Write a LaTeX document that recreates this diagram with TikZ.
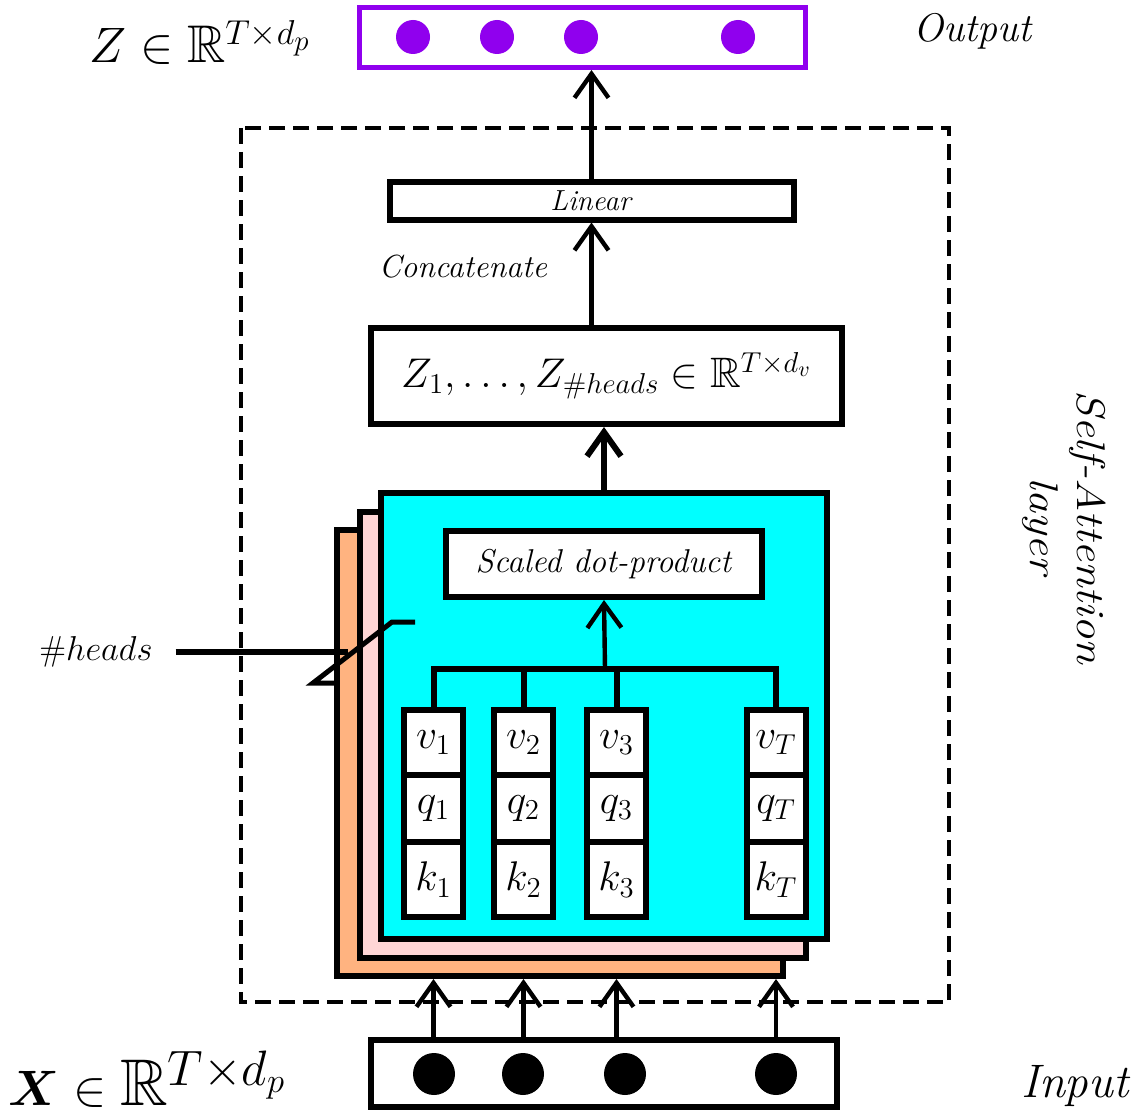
\documentclass[tikz,border=0pt]{standalone}
\usepackage{amsmath}
\usepackage{amssymb}
\usepackage{bm}
\usepackage{graphicx}
\usetikzlibrary{arrows.meta}
\definecolor{outviolet}{RGB}{144,0,238}
\definecolor{headcyan}{RGB}{0,255,255}
\definecolor{headpink}{RGB}{255,214,214}
\definecolor{headpeach}{RGB}{255,179,128}
\tikzset{
  box/.style={draw=black, line width=3pt, fill=white, inner sep=0pt},
  cell/.style={box, minimum width=29.5pt},
  arr/.style={line width=2.2pt, -{Straight Barb[length=12pt,width=17pt]}},
  fs/.style={font=\fontsize{#1}{#1}\selectfont}
}
\begin{document}
\begin{tikzpicture}[x=0.5pt, y=-0.5pt]
\useasboundingbox (0,0) rectangle (1135,1113);
\draw[line width=2pt, dash pattern=on 8pt off 4pt] (241,128) rectangle (949,1002);

\node[box, draw=outviolet, line width=2.5pt, minimum width=223pt, minimum height=30pt] (out) at (582.5,37.5) {};
\foreach \x [count=\i] in {413,497,581,738}
  \node[circle, fill=outviolet, minimum size=17pt, inner sep=0pt] (z\i) at (\x,37) {};
\node[fs=26.5, anchor=base west, inner sep=0pt] (zlab) at (89,63) {$Z\in\mathbb{R}^{T\times d_p}$};
\node[fs=20, anchor=base west, inner sep=0pt] (outlab) at (913,42) {\textit{Output}};

\node[box, minimum width=202pt, minimum height=19pt, fs=14.5] (lin) at (591.5,200.5) {\textit{Linear}};
\node[fs=16] (cat) at (463,267) {\textit{Concatenate}};
\node[box, minimum width=235.5pt, minimum height=48pt, fs=21.3] (zh) at (606.5,376) {$Z_1,\ldots,Z_{\#heads}\in\mathbb{R}^{T\times d_v}$};

% stack of heads
\node[box, fill=headpeach, minimum size=223pt] (h3) at (560,753) {};
\node[box, fill=headpink, minimum size=223pt] (h2) at (583,734.5) {};
\node[box, fill=headcyan, minimum size=223pt] (h1) at (604,716) {};
\node[box, minimum width=158pt, minimum height=33pt, fs=16.5] (sdp) at (604,564) {\textit{Scaled dot-product}};

\foreach \x/\c in {433.5/1, 523.5/2, 616.5/3, 776/T} {
  \node[cell, minimum height=32.5pt, fs=21] (v\c) at (\x,742.5) {$v_{\c}$};
  \node[cell, minimum height=33.5pt, fs=21] (q\c) at (\x,808.5) {$q_{\c}$};
  \node[cell, minimum height=37.5pt, fs=21] (k\c) at (\x,879.5) {$k_{\c}$};
}
\coordinate (bus) at (605,669);
\draw[line width=3pt] (v1.north) |- (bus) -| (vT.north);
\foreach \c in {2,3}
  \draw[line width=3pt] (v\c.north) -- (v\c.north |- bus);
\draw[arr] (bus) -- (sdp.south);

\draw[arr, line width=3pt] (h1.north) -- (h1.north |- zh.south);
\draw[arr] (lin.south |- zh.north) -- (lin.south);
\draw[arr] (lin.north) -- (lin.north |- out.south);

% input
\node[box, minimum width=233pt, minimum height=33.5pt] (inp) at (604,1073.5) {};
\foreach \x [count=\i] in {434,523,625,776}
  \node[circle, fill=black, minimum size=21pt, inner sep=0pt] (x\i) at (\x,1074) {};
\foreach \c in {1,2,3,T}
  \draw[arr] (v\c |- inp.north) -- (v\c |- h3.south);
\node[fs=33, anchor=base west, inner sep=0pt] (xlab) at (8,1105) {$\boldsymbol{X}\in\mathbb{R}^{T\times d_p}$};
\node[fs=23.5, anchor=base west, inner sep=0pt] (inlab) at (1021,1097) {\textit{Input}};

% number of heads
\node[fs=19] (nh) at (96,652) {$\#heads$};
\draw[line width=3pt] ([xshift=8pt]nh.east) -- ([xshift=7pt]h3.west |- nh.east);
\draw[line width=2.5pt] (334,683) -- (313,683) -- (392,622) -- (415,622);

\node[rotate=-90, font=\fontsize{20}{23.5}\selectfont, align=center] (sal) at (1064,528)
  {\scalebox{1.16}[1]{\textit{Self-Attention}}\\\scalebox{1.16}[1]{\textit{layer}}};
\end{tikzpicture}
\end{document}
